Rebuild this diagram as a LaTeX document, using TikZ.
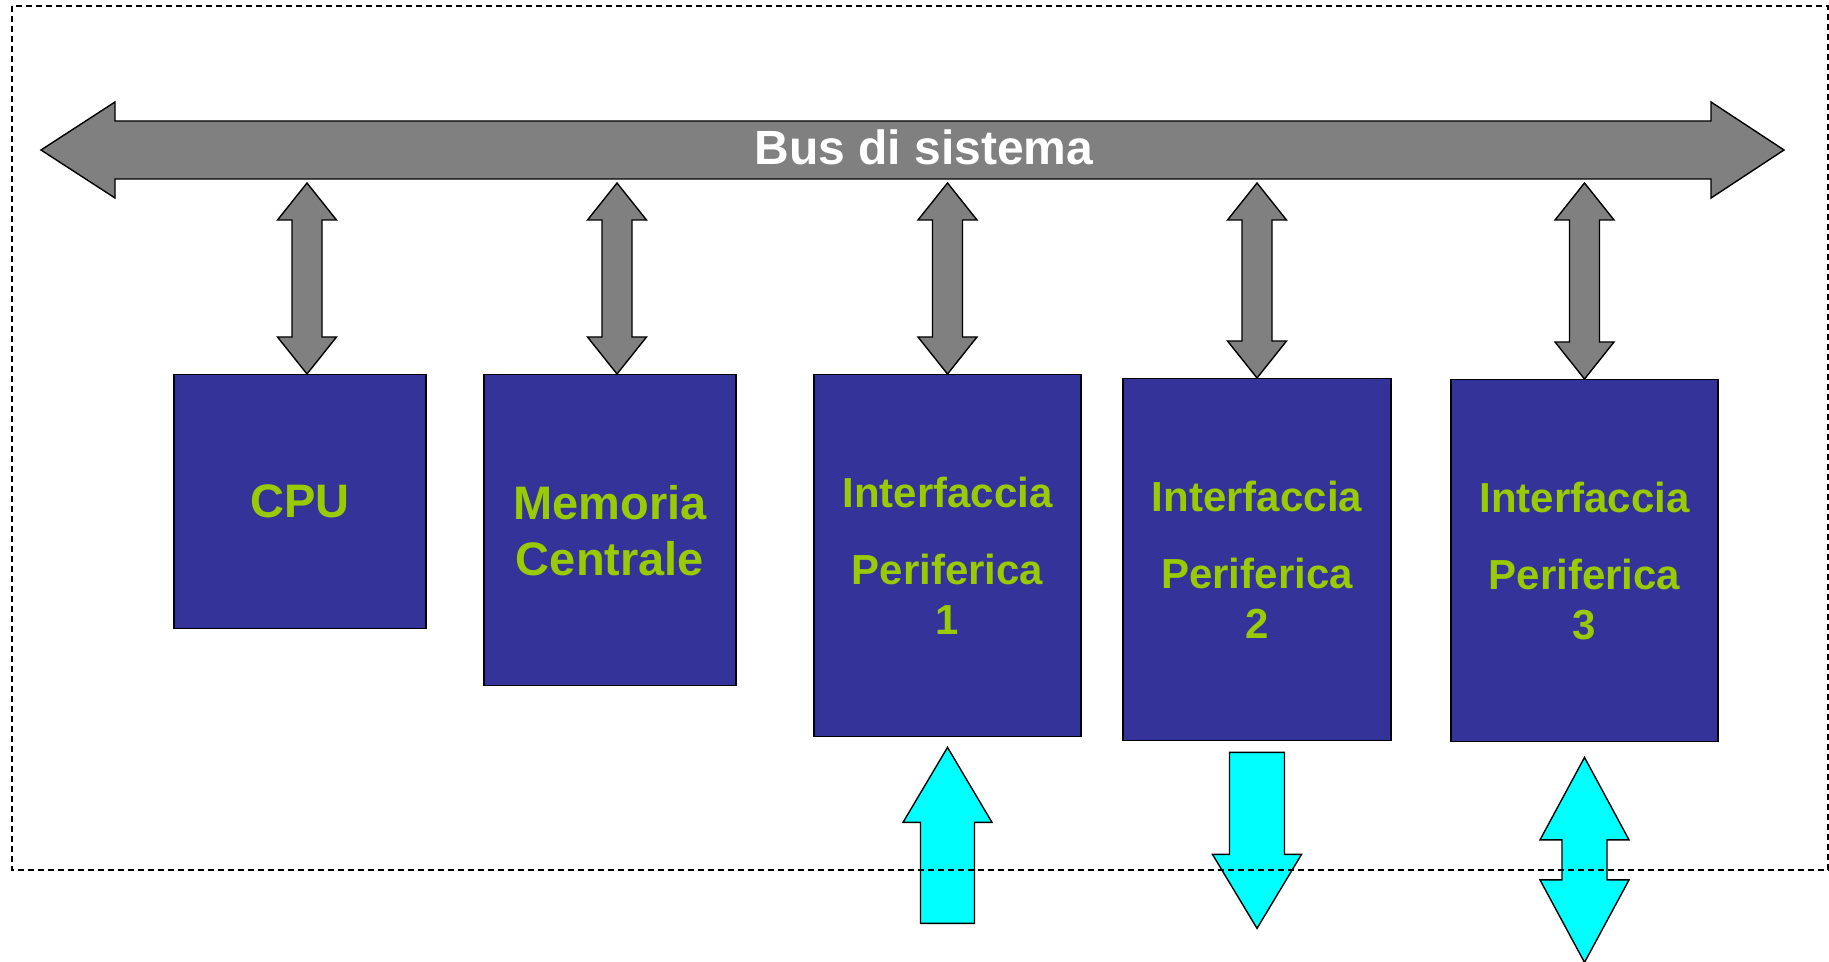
\documentclass[tikz,border=0pt]{standalone}
\usepackage{fontspec}
\setmainfont{Liberation Sans}
\usetikzlibrary{calc}
\definecolor{boxblue}{HTML}{333399}
\definecolor{labelgreen}{HTML}{99CC00}
\definecolor{busgray}{HTML}{808080}
\definecolor{iocyan}{HTML}{00FFFF}
\tikzstyle{unit} = [draw=black, line width=0.7pt, fill=boxblue, text=labelgreen, align=center, anchor=north, inner sep=0pt]
\tikzstyle{bigtext} = [font=\bfseries\fontsize{23.5}{28}\selectfont]
\tikzstyle{smalltext} = [font=\bfseries\fontsize{21}{25}\selectfont]
\tikzstyle{busarrow} = [draw=black, line width=0.7pt, fill=busgray]
\tikzstyle{ioarrow} = [draw=black, line width=0.7pt, fill=iocyan]
% vertical arrow with one head: style, tip, tail, shaft half width, head half width, head length
\newcommand{\vsingle}[6]{\draw[#1] (#2) -- ($(#2)+(-#5,#6)$) -- ($(#2)+(-#4,#6)$) -- ($(#3)+(-#4,0)$) -- ($(#3)+(#4,0)$) -- ($(#2)+(#4,#6)$) -- ($(#2)+(#5,#6)$) -- cycle;}
% vertical arrow with two heads: style, top tip, bottom tip, shaft half width, head half width, head length
\newcommand{\vdouble}[6]{\draw[#1] (#2) -- ($(#2)+(-#5,#6)$) -- ($(#2)+(-#4,#6)$) -- ($(#3)+(-#4,-#6)$) -- ($(#3)+(-#5,-#6)$) -- (#3) -- ($(#3)+(#5,-#6)$) -- ($(#3)+(#4,-#6)$) -- ($(#2)+(#4,#6)$) -- ($(#2)+(#5,#6)$) -- cycle;}
\begin{document}
\begin{tikzpicture}[x=0.5pt,y=-0.5pt]
\useasboundingbox (0,0) rectangle (1829,962);
% system bus
\coordinate (busL) at (41,150);
\coordinate (busR) at (1784,150);
\coordinate (busS) at (0,183);
\draw[busarrow] (busL) -- ($(busL)+(74,-48)$) -- ($(busL)+(74,-29)$) -- ($(busR)+(-73,-29)$) -- ($(busR)+(-73,-48)$) -- (busR)
  -- ($(busR)+(-73,48)$) -- ($(busR)+(-73,29)$) -- ($(busL)+(74,29)$) -- ($(busL)+(74,48)$) -- cycle;
\node[text=white, font=\bfseries\fontsize{24}{28}\selectfont] (bus) at (924,147) {Bus di sistema};
% units
\node[unit, bigtext, minimum width=126pt, minimum height=127pt] (cpu) at (300,374) {CPU};
\node[unit, bigtext, minimum width=126pt, minimum height=155.5pt] (mem) at (610,374) {Memoria\\Centrale};
\node[unit, smalltext, minimum width=133.5pt, minimum height=181pt] (if1) at (947.5,374) {Interfaccia\\[13.5pt]Periferica\\1};
\node[unit, smalltext, minimum width=134pt, minimum height=181pt] (if2) at (1257,378) {Interfaccia\\[13.5pt]Periferica\\2};
\node[unit, smalltext, minimum width=133.5pt, minimum height=181pt] (if3) at (1584.5,379) {Interfaccia\\[13.5pt]Periferica\\3};
% links to the bus
\coordinate (c1) at ($(cpu.north)+(7,0)$);
\coordinate (c2) at ($(mem.north)+(7,0)$);
\vdouble{busarrow}{c1 |- busS}{c1}{15}{29.5}{37}
\vdouble{busarrow}{c2 |- busS}{c2}{15}{29.5}{37}
\vdouble{busarrow}{if1.north |- busS}{if1.north}{15}{29.5}{37}
\vdouble{busarrow}{if2.north |- busS}{if2.north}{15}{29.5}{37}
\vdouble{busarrow}{if3.north |- busS}{if3.north}{15}{29.5}{37}
% peripheral arrows
\coordinate (in1) at ($(if1.south)+(0,186)$);
\coordinate (out2) at ($(if2.south)+(0,187)$);
\coordinate (io3) at ($(if3.south)+(0,220)$);
\vsingle{ioarrow}{$(if1.south)+(0,10)$}{in1}{27}{44.5}{75}
\vsingle{ioarrow}{out2}{$(if2.south)+(0,11)$}{27.5}{44.5}{-74}
\vdouble{ioarrow}{$(if3.south)+(0,15)$}{io3}{22.5}{44.5}{82.5}
% computer boundary
\draw[dash pattern=on 3pt off 2pt, line width=0.7pt] (12,6) rectangle (1828,870);
\end{tikzpicture}
\end{document}
